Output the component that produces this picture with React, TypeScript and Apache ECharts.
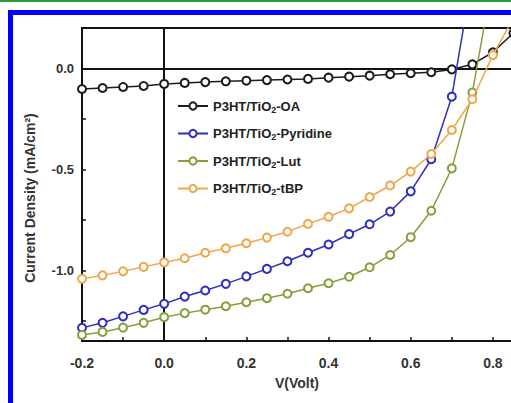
import React, { useEffect, useRef } from "react";
import * as echarts from "echarts";

const voltages = [-0.2, -0.15, -0.1, -0.05, 0, 0.05, 0.1, 0.15, 0.2, 0.25, 0.3, 0.35, 0.4, 0.45, 0.5, 0.55, 0.6, 0.65, 0.7, 0.75, 0.8, 0.85];

const oaValues = [-0.102, -0.097, -0.092, -0.087, -0.077, -0.072, -0.068, -0.064, -0.061, -0.058, -0.055, -0.052, -0.046, -0.041, -0.036, -0.029, -0.024, -0.019, -0.005, 0.02, 0.08, 0.175];
const pyridineValues = [-1.285, -1.26, -1.228, -1.196, -1.166, -1.13, -1.1, -1.067, -1.03, -0.993, -0.955, -0.913, -0.872, -0.821, -0.772, -0.709, -0.609, -0.45, -0.14, 0.46];
const lutValues = [-1.32, -1.305, -1.284, -1.26, -1.232, -1.212, -1.195, -1.178, -1.158, -1.138, -1.116, -1.089, -1.064, -1.032, -0.985, -0.924, -0.836, -0.705, -0.495, -0.12, 0.45];
const tbpValues = [-1.042, -1.025, -1.005, -0.983, -0.961, -0.94, -0.913, -0.891, -0.866, -0.838, -0.809, -0.77, -0.735, -0.693, -0.637, -0.58, -0.511, -0.424, -0.305, -0.153, 0.066, 0.25];

const seriesNames = ["OA", "Pyridine", "Lut", "tBP"];
const seriesColors = ["#1c1c1c", "#2f2fbf", "#84a03a", "#f2a64a"];
const seriesValues = [oaValues, pyridineValues, lutValues, tbpValues];

const xTickValues = [-0.2, -0.1, 0, 0.1, 0.2, 0.3, 0.4, 0.5, 0.6, 0.7, 0.8, 0.9];
const xLabelValues = [-0.2, 0, 0.2, 0.4, 0.6, 0.8];
const yTickValues = [-1.25, -1, -0.75, -0.5, -0.25, 0];
const yLabelValues = [-1, -0.5, 0];

export default function App() {
  const ref = useRef<HTMLDivElement>(null);

  useEffect(() => {
    if (!ref.current) return;
    const chart = echarts.init(ref.current, null, { renderer: "svg" });
    const font = "Liberation Sans, Arial, sans-serif";
    const series: any[] = seriesNames.map((name, i) => ({
      name,
      type: "line",
      data: seriesValues[i].map((v, j) => [voltages[j], v]),
      symbol: "emptyCircle",
      symbolSize: 8,
      color: seriesColors[i],
      lineStyle: { width: 1.5, color: seriesColors[i] },
      itemStyle: { color: seriesColors[i], borderWidth: 2 },
      z: 3 + i,
    }));
    series[0].markLine = {
      silent: true,
      symbol: "none",
      label: { show: false },
      lineStyle: { color: "#111", width: 2, type: "solid" },
      data: [{ xAxis: 0 }, { yAxis: 0 }],
      z: 1,
    };
    chart.setOption({
      animation: false,
      grid: {
        left: 82,
        top: 28,
        width: 452,
        height: 313,
        show: true,
        borderColor: "#111",
        borderWidth: 2,
        backgroundColor: "transparent",
      },
      legend: {
        orient: "vertical",
        left: 172,
        top: 93,
        itemWidth: 30,
        itemHeight: 9,
        itemGap: 11.5,
        formatter: (name: string) => `{a|P3HT/TiO}{s|2}{a|-${name}}`,
        textStyle: {
          rich: {
            a: { fontFamily: font, fontWeight: "bold", fontSize: 13, color: "#222", lineHeight: 18 },
            s: { fontFamily: font, fontWeight: "bold", fontSize: 9, color: "#222", padding: [7, 0, 0, 0], lineHeight: 18 },
          },
        },
      },
      xAxis: {
        type: "value",
        min: -0.2,
        max: 0.9,
        splitLine: { show: false },
        axisLine: { onZero: false, lineStyle: { color: "#111", width: 2 } },
        axisTick: { inside: true, length: 4, customValues: xTickValues, lineStyle: { color: "#111", width: 1.5 } },
        axisLabel: {
          customValues: xLabelValues,
          formatter: (v: number) => v.toFixed(1),
          margin: 15,
          fontFamily: font,
          fontWeight: "bold",
          fontSize: 14,
          color: "#333",
        },
      },
      yAxis: {
        type: "value",
        min: -1.35,
        max: 0.2,
        splitLine: { show: false },
        axisLine: { onZero: false, lineStyle: { color: "#111", width: 2 } },
        axisTick: { inside: true, length: 4, customValues: yTickValues, lineStyle: { color: "#111", width: 1.5 } },
        axisLabel: {
          customValues: yLabelValues,
          formatter: (v: number) => v.toFixed(1),
          margin: 8,
          fontFamily: font,
          fontWeight: "bold",
          fontSize: 13,
          color: "#333",
        },
      },
      graphic: [
        {
          type: "text",
          x: 30,
          y: 198,
          rotation: Math.PI / 2,
          style: {
            text: "Current Density (mA/cm²)",
            fontFamily: font,
            fontWeight: "bold",
            fontSize: 14,
            fill: "#333",
            align: "center",
            verticalAlign: "middle",
          },
        },
        {
          type: "text",
          x: 297,
          y: 383,
          style: {
            text: "V(Volt)",
            fontFamily: font,
            fontWeight: "bold",
            fontSize: 14,
            fill: "#333",
            align: "center",
            verticalAlign: "middle",
          },
        },
      ],
      series,
    });
    return () => chart.dispose();
  }, []);

  return (
    <div style={{ position: "fixed", left: 0, top: 0, width: 511, height: 403, overflow: "hidden", background: "#fff" }}>
      <div style={{ position: "absolute", left: 0, top: 0, width: 511, height: 2, background: "#2a9a3c" }} />
      <div style={{ position: "absolute", left: 8, top: 10, width: 600, height: 500, borderLeft: "5px solid #0000ff", borderTop: "5px solid #0000ff" }} />
      <div ref={ref} style={{ position: "absolute", left: 0, top: 0, width: 560, height: 403 }} />
    </div>
  );
}
